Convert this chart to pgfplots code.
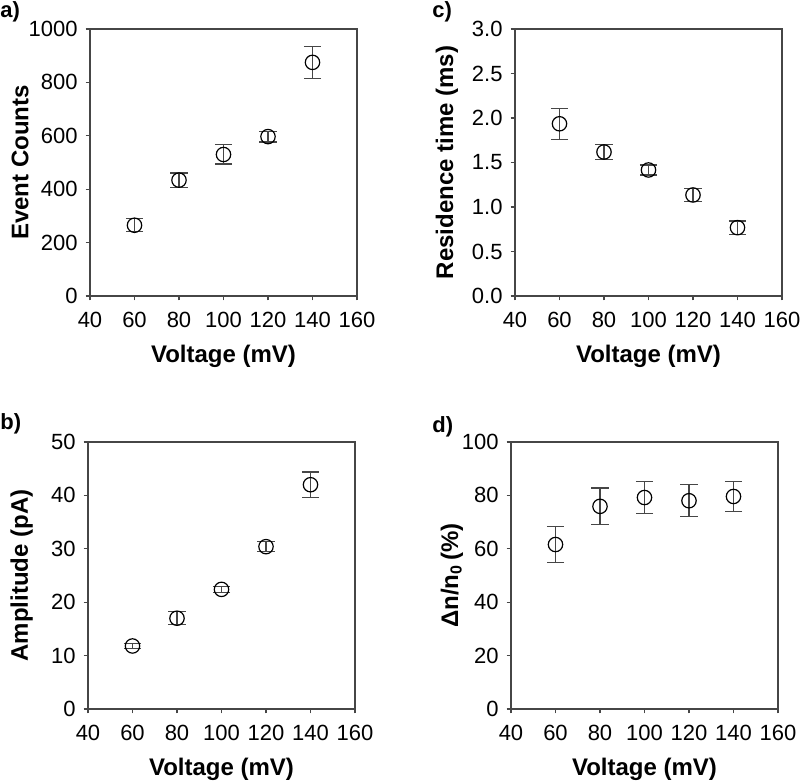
\documentclass[border=0pt]{standalone}
\usepackage{fontspec}
\setmainfont{Liberation Sans}
\usepackage{pgfplots}
\pgfplotsset{compat=1.18}
\definecolor{axc}{RGB}{70,70,70}
\pgfplotsset{
  panel/.style={
    scale only axis, width=133.5pt, height=133.5pt, anchor=south west,
    xmin=40, xmax=160, xtick={40,60,...,160},
    axis line style={axc, line width=0.6pt},
    tick style={axc, line width=0.6pt},
    tick align=outside, major tick length=2.2pt,
    xtick pos=bottom, ytick pos=left,
    /pgf/number format/assume math mode=true,
    /pgf/number format/1000 sep={},
    ticklabel style={font=\fontsize{11}{13}\selectfont, text=black},
    xticklabel style={yshift=-2.5pt},
    yticklabel style={xshift=-0.5pt},
    label style={font=\fontsize{12}{14}\bfseries},
    xlabel={Voltage (mV)},
    xlabel style={at={(axis description cs:0.5,-0.25)}, anchor=base},
    ylabel style={anchor=base},
    clip=false,
  },
  pts/.style={
    only marks, mark=o, mark size=3.6pt,
    mark options={black, line width=0.6pt, fill=white},
    error bars/.cd, y dir=both, y explicit,
    error bar style={axc, line width=0.6pt},
    error mark options={rotate=90, mark size=4.3pt, axc, line width=0.6pt},
  },
}
\begin{document}
\begin{tikzpicture}
\useasboundingbox (0pt,0pt) rectangle (400pt,391.5pt);
% a
\begin{axis}[panel, at={(45pt,243.5pt)},
  ymin=0, ymax=1000, ytick={0,200,...,1000},
  ylabel={Event Counts},
  ylabel style={at={(axis description cs:-0.231,0.5)}}]
\addplot+[pts] coordinates {
(60,265) +- (0,24)
(80,434) +- (0,27)
(100,530) +- (0,36)
(120,597) +- (0,20)
(140,875) +- (0,60)
};
\end{axis}
% c
\begin{axis}[panel, at={(257.5pt,243.5pt)},
  ymin=0, ymax=3, ytick={0,0.5,...,3},
  yticklabel style={/pgf/number format/.cd, fixed, fixed zerofill, precision=1},
  ylabel={Residence time (ms)},
  ylabel style={at={(axis description cs:-0.232,0.5)}}]
\addplot+[pts] coordinates {
(60,1.935) +- (0,0.176)
(80,1.618) +- (0,0.080)
(100,1.416) +- (0,0.056)
(120,1.135) +- (0,0.077)
(140,0.768) +- (0,0.075)
};
\end{axis}
% b
\begin{axis}[panel, at={(44pt,37pt)},
  ymin=0, ymax=50, ytick={0,10,...,50},
  ylabel={Amplitude (pA)},
  ylabel style={at={(axis description cs:-0.225,0.5)}}]
\addplot+[pts] coordinates {
(60,11.8) +- (0,0.5)
(80,17.0) +- (0,1.2)
(100,22.4) +- (0,0.6)
(120,30.4) +- (0,0.9)
(140,42.0) +- (0,2.4)
};
\end{axis}
% d
\begin{axis}[panel, at={(255.5pt,37pt)},
  ymin=0, ymax=100, ytick={0,20,...,100},
  ylabel={Δn/n\textsubscript{0}\,(\%)},
  ylabel style={at={(axis description cs:-0.198,0.5)}}]
\addplot+[pts] coordinates {
(60,61.6) +- (0,6.7)
(80,75.9) +- (0,6.9)
(100,79.2) +- (0,5.9)
(120,78.0) +- (0,6.0)
(140,79.6) +- (0,5.7)
};
\end{axis}
\node[anchor=base west, font=\fontsize{11}{13}\bfseries, inner sep=0pt] at (0pt,382.5pt) {a)};
\node[anchor=base west, font=\fontsize{11}{13}\bfseries, inner sep=0pt] at (216pt,382.5pt) {c)};
\node[anchor=base west, font=\fontsize{11}{13}\bfseries, inner sep=0pt] at (0pt,176.5pt) {b)};
\node[anchor=base west, font=\fontsize{11}{13}\bfseries, inner sep=0pt] at (216pt,175pt) {d)};
\end{tikzpicture}
\end{document}
